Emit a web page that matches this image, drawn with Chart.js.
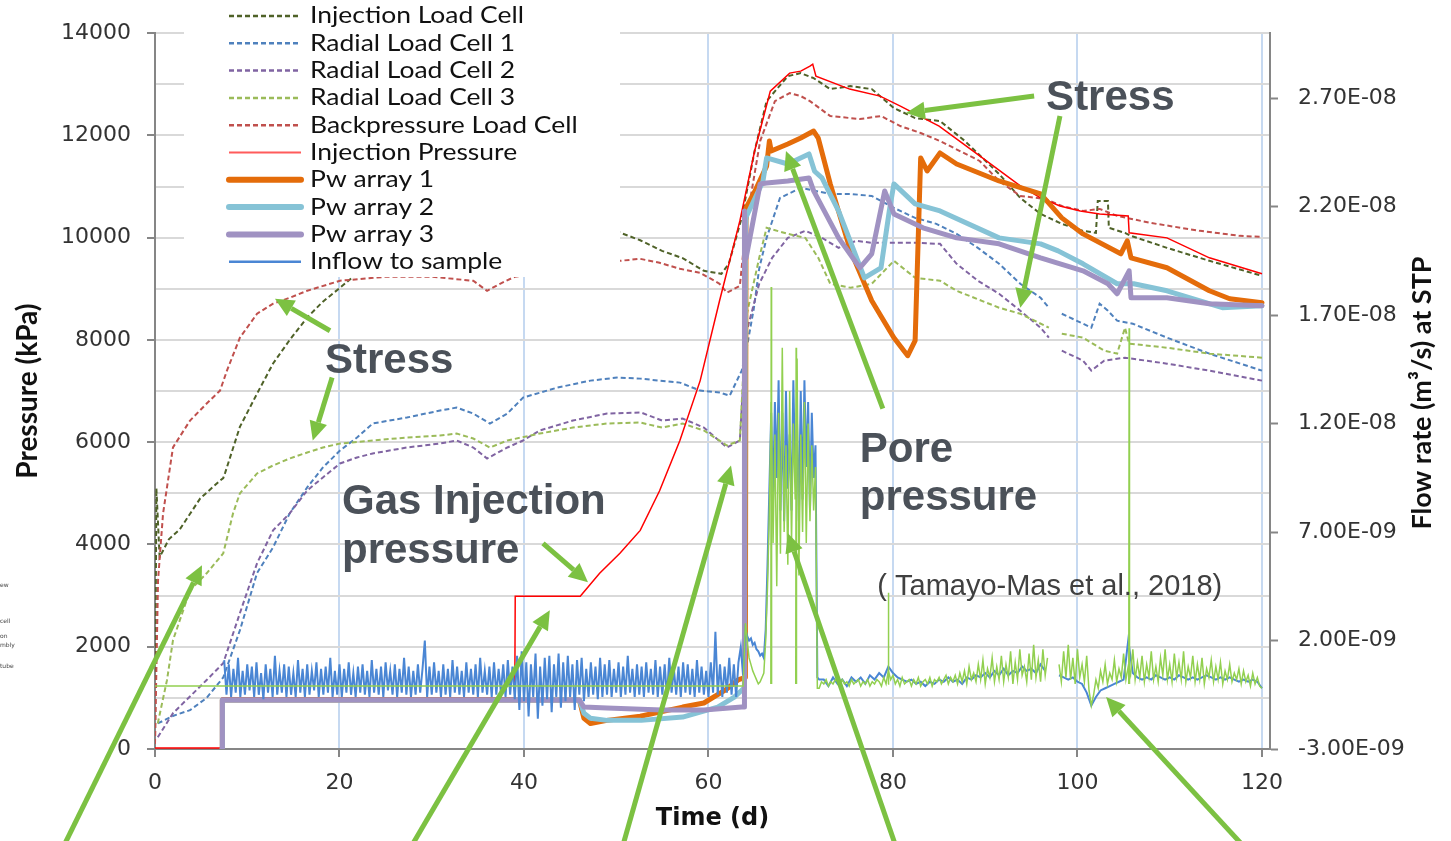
<!DOCTYPE html>
<html>
<head>
<meta charset="utf-8">
<title>Gas injection test</title>
<script src="https://cdn.jsdelivr.net/npm/chart.js@4.4.1/dist/chart.umd.min.js"></script>
<style>
  html, body { margin: 0; padding: 0; background: #fff; }
  #wrap { position: relative; width: 1451px; height: 841px; }
</style>
</head>
<body>
<div id="wrap"><canvas id="myChart"></canvas></div>
<script>
// axis ticks
const xTicks = [0, 20, 40, 60, 80, 100, 120]
const leftTicks = [0, 1000, 2000, 3000, 4000, 5000, 6000, 7000, 8000, 9000, 10000, 11000, 12000, 13000, 14000]
const rightTicks = [-3, 2, 7, 12, 17, 22, 27]   // flow in 1e-9 m3/s

// stresses (kPa) against time (d)
const ilcDays = [0, 0.15, 0.5, 1.5, 2.7, 3.8, 4.9, 7.05, 7.4, 7.6, 9.2, 11.06, 12.8, 14.6, 16.5, 18.2, 20.05, 21.5, 25, 30, 40, 50.4, 52.6, 54.96, 57.2, 59.5, 61.4, 62.2, 63.6, 65.0, 66.3, 68.6, 70.0, 71.4, 73.2, 75.4, 77.7, 80.1, 82.4, 85.1, 87.8, 91.5, 93.8, 96.0, 98.3, 100.6, 102.0, 102.2, 103.3, 103.4, 105.15, 105.8, 109.7, 114.3, 120.0]
const ilcKpa = [100, 5100, 3750, 4100, 4300, 4600, 4900, 5250, 5300, 5400, 6300, 6950, 7540, 8000, 8440, 8750, 9020, 9240, 9700, 10000, 10100, 10100, 9950, 9743, 9600, 9353, 9294, 9490, 10388, 11696, 12672, 13160, 13219, 13121, 12907, 12965, 12907, 12536, 12340, 12282, 11891, 11247, 10778, 10466, 10271, 10134, 10095, 10720, 10720, 10193, 10095, 10036, 9802, 9548, 9255]

const rlc1Days = [0.3, 2, 3.8, 5.6, 7.4, 9.2, 11.06, 12.8, 14.6, 16.5, 18.2, 20.05, 21.9, 23.6, 27.3, 30.9, 32.7, 34.5, 36.3, 38.2, 39.9, 43.6, 47.2, 50.1, 52.6, 54.7, 56.9, 59.1, 61.2, 62.3, 63.6, 64.1, 64.9, 65.5, 66.3, 67.75, 70.0, 73.2, 75.4, 77.7, 80.1, 82.4, 84.7, 86.9, 89.2, 91.5, 93.8, 96.0, 96.9, 97.5, 98.3, 100.6, 101.5, 102.4, 103.3, 104.3, 106.0, 109.7, 114.3, 120.0]
const rlc1Kpa = [500, 650, 760, 1000, 1400, 2320, 3440, 3944, 4608, 5116, 5506, 5838, 6092, 6366, 6483, 6619, 6678, 6561, 6366, 6561, 6873, 7068, 7205, 7264, 7244, 7205, 7166, 7010, 6971, 6912, 7400, 7800, 8600, 9400, 9997, 10778, 10974, 10856, 10856, 10817, 10583, 10388, 10271, 10075, 9802, 9490, 9099, 8826, 8631, null, 8513, 8318, 8240, 8709, 8572, 8377, 8318, 8045, 7732, 7400]

const rlc2Days = [0.3, 1.95, 5.6, 7.4, 9.2, 11.06, 12.8, 14.6, 16.5, 18.2, 20.05, 21.9, 23.6, 27.3, 30.9, 32.7, 34.5, 36.0, 38.2, 39.9, 41.7, 45.3, 49.0, 52.7, 54.96, 57.2, 59.5, 62.0, 63.4, 64.07, 65.5, 66.9, 68.6, 70.5, 72.3, 74.1, 76.0, 77.7, 80.1, 82.4, 85.1, 86.9, 89.2, 91.5, 93.8, 96.0, 96.9, 97.5, 98.3, 100.6, 101.5, 102.9, 105.15, 109.7, 114.3, 120.0]
const rlc2Kpa = [230, 700, 1350, 1680, 2656, 3632, 4276, 4608, 5057, 5311, 5584, 5702, 5780, 5897, 5975, 6034, 5897, 5682, 5897, 6034, 6229, 6424, 6561, 6580, 6424, 6463, 6287, 5897, 6034, 8123, 9099, 9607, 9997, 10134, 9997, 9802, 9939, 9900, 9900, 9900, 9880, 9490, 9158, 8904, 8572, 8240, 8045, null, 7791, 7596, 7400, 7596, 7654, 7537, 7400, 7205]

const rlc3Days = [0.3, 1.3, 1.95, 3.8, 5.6, 7.4, 8.46, 9.2, 11.06, 12.8, 14.6, 16.5, 18.2, 20.05, 23.6, 27.3, 30.9, 32.7, 34.5, 36.3, 38.2, 41.7, 45.3, 49.0, 52.6, 54.96, 57.2, 59.5, 62.0, 63.4, 64.07, 65.5, 66.3, 68.6, 70.5, 71.9, 73.2, 75.4, 77.7, 80.1, 82.4, 85.1, 86.9, 91.5, 93.8, 96.9, 97.5, 98.3, 100.6, 102.9, 104.3, 105.15, 105.6, 109.7, 114.3, 120.0]
const rlc3Kpa = [500, 1347, 2128, 3105, 3437, 3827, 4608, 4999, 5389, 5545, 5682, 5799, 5897, 5975, 6034, 6092, 6131, 6170, 6073, 5897, 6034, 6170, 6287, 6366, 6385, 6287, 6366, 6229, 5936, 6034, 8435, 9607, 10193, 10075, 9997, 9607, 9099, 9021, 9099, 9548, 9216, 9158, 8962, 8631, 8513, 8240, null, 8123, 8045, 7791, 7732, 8240, 7928, 7849, 7732, 7654]

const bplcDays = [0, 0.33, 0.87, 1.95, 3.8, 5.6, 7.05, 7.8, 9.2, 11.06, 12.8, 14.6, 16.5, 20.05, 25, 30, 34.5, 36.0, 37.4, 39.0, 45, 50.4, 52.6, 54.7, 56.9, 59.1, 61.2, 62.0, 63.4, 64.0, 64.5, 65.6, 67.2, 68.8, 70.0, 71.0, 73.2, 76.4, 78.7, 80.8, 83.0, 85.1, 89.4, 91.5, 93.8, 96.5, 98.3, 100.6, 102.4, 104.3, 107.9, 113.3, 117.6, 120.0]
const bplcKpa = [100, 3300, 4600, 5900, 6424, 6756, 7010, 7400, 8045, 8513, 8709, 8826, 8962, 9158, 9236, 9236, 9158, 8962, 9099, 9236, 9400, 9548, 9587, 9509, 9392, 9314, 9099, 8923, 9060, 10134, 10720, 11891, 12672, 12829, 12770, 12672, 12380, 12321, 12380, 12184, 12048, 11891, 11501, 11110, 10817, 10758, 10622, 10524, 10563, 10427, 10290, 10134, 10036, 10017]

const ipDays = [0, 7.25, 7.3, 39.0, 39.05, 46.1, 48.2, 50.4, 52.6, 54.7, 56.9, 59.1, 61.2, 63.4, 65.0, 66.7, 68.8, 70.0, 71.0, 71.3, 71.65, 75.3, 78.6, 80.8, 85.0, 89.4, 93.8, 96.0, 98.1, 100.3, 102.4, 105.5, 105.6, 109.7, 114.3, 120.0]
const ipKpa = [20, 20, 1000, 1000, 2987, 2987, 3437, 3830, 4276, 5050, 6034, 7205, 8767, 10329, 11696, 12868, 13219, 13258, 13356, 13395, 13160, 12907, 12770, 12575, 12184, 11599, 11013, 10778, 10622, 10524, 10466, 10427, 10095, 9997, 9607, 9294]

// pore pressure arrays (kPa)
const pw1Days = [7.28, 7.3, 46.0, 46.5, 47.2, 49.0, 52.6, 57.2, 59.5, 61.8, 63.2, 64.0, 64.07, 65.0, 66.3, 66.6, 66.8, 68.6, 70.0, 71.4, 71.9, 73.2, 75.4, 77.7, 80.1, 81.6, 82.4, 83.0, 83.7, 85.1, 86.9, 91.5, 96.0, 98.3, 100.6, 104.7, 105.4, 105.8, 109.7, 114.3, 116.5, 120.0]
const pw1Kpa = [0, 960, 960, 600, 500, 560, 640, 820, 900, 1150, 1350, 1400, 10583, 10900, 11400, 11891, 11696, 11833, 11950, 12087, 11950, 11052, 9743, 8767, 8045, 7693, 7986, 11560, 11306, 11657, 11442, 11110, 10856, 10388, 10075, 9685, 9939, 9607, 9412, 8962, 8806, 8728]

const pw2Days = [7.28, 7.3, 46.0, 46.5, 47.2, 49.0, 52.7, 57.2, 61.0, 62.8, 63.6, 63.9, 64.0, 64.07, 65.9, 66.3, 68.6, 70.9, 71.5, 72.3, 74.1, 76.9, 78.7, 79.6, 80.1, 82.4, 85.1, 91.5, 96.0, 97.9, 100.6, 104.3, 106.1, 109.7, 115.7, 120.0]
const pw2Kpa = [0, 960, 960, 700, 600, 560, 560, 625, 820, 1015, 1150, 1200, 10000, 10400, 11100, 11560, 11442, 11638, 11300, 11169, 10524, 9216, 9412, 10524, 11052, 10661, 10524, 9997, 9880, 9743, 9490, 9099, 9099, 8962, 8631, 8670]

const pw3Days = [7.28, 7.3, 46.0, 46.5, 49.0, 54.96, 59.5, 63.6, 63.85, 63.9, 64.07, 65.6, 66.3, 68.6, 70.9, 71.4, 74.1, 76.4, 77.7, 79.1, 80.1, 83.25, 86.9, 91.5, 96.0, 100.6, 103.3, 104.3, 105.6, 105.8, 109.7, 114.3, 120.0]
const pw3Kpa = [0, 960, 960, 820, 800, 761, 761, 820, 820, 10524, 9600, 11052, 11071, 11110, 11169, 10915, 9997, 9412, 9685, 10915, 10466, 10193, 9997, 9880, 9607, 9353, 9099, 8904, 9353, 8826, 8826, 8709, 8670]

// flow rates (1e-9 m3/s) read in three stretches with their own sampling step
const inflowStartA = 7.5
const inflowStepA = 0.25
const inflowA = [
  1.1, -0.5, 0.9, -0.6, 0.7, -0.4, 1.2, -0.6, 0.6, -0.5, 0.9, -0.3, 0.8, -0.6, 1.0, -0.5, 0.5, -0.7, 0.9, -0.4,
  0.7, -0.6, 1.3, -0.5, 0.6, -0.4, 0.9, -0.6, 0.8, -0.5, 0.5, -0.6, 1.1, -0.4, 0.7, -0.6, 0.9, -0.5, 0.6, -0.3,
  1.0, -0.6, 0.7, -0.5, 0.8, -0.4, 1.2, -0.6, 0.6, -0.5, 0.9, -0.6, 0.7, -0.4, 1.0, -0.5, 0.5, -0.6, 0.8, -0.4,
  0.9, -0.5, 0.6, -0.6, 1.1, -0.4, 0.7, -0.5, 0.8, -0.6, 1.0, -0.3, 0.6, -0.5, 0.9, -0.6, 0.7, -0.4, 1.2, -0.5,
  0.8, -0.6, 0.6, -0.5, 0.9, -0.4, 0.7, 2.0, -0.6, 0.8, -0.5, 1.0, -0.4, 0.6, -0.6, 0.9, -0.5, 0.7, -0.6, 1.1,
  -0.4, 0.8, -0.5, 0.6, -0.6, 1.0, -0.4, 0.7, -0.5, 0.9, -0.6, 1.2, -0.4, 0.6, -0.5, 0.8, -0.6, 1.0, -0.5, 0.7,
  -0.4, 0.9, -0.6, 1.1, -0.5, 0.8, -0.7, 1.3, -1.2, 1.5, -0.8, 1.0, -1.5, 0.9, -0.6, 1.4, -1.6, 0.8, -1.0, 1.2,
  -0.7, 1.3, -1.3, 0.9, -0.6, 1.4, -1.1, 1.0, -0.8, 1.3, -0.6, 0.9, -1.2, 1.1, -0.5, 1.2, -0.8, 0.7, -0.6, 1.0,
  -0.5, 0.8, -0.7, 1.2, -0.6, 0.9, -0.5, 1.1, -0.6, 0.7, -0.4, 1.0, -0.6, 0.8, -0.5, 1.3, -0.4, 0.7, -0.6, 0.9,
  -0.5, 0.8, -0.6, 1.0, -0.4, 0.7, -0.5, 1.1, -0.6, 0.8, -0.5, 0.9, -0.6, 1.2, -0.4, 0.7, -0.5, 0.8, -0.6, 1.0,
  -0.4, 0.9, -0.5, 0.7, -0.6, 1.1, -0.4, 0.8, -0.5, 0.6, -0.6, 1.0, -0.4, 2.4, -0.5, 0.9, -0.6, 0.8, -0.4, 1.2,
  -0.5, 0.9, -0.6, 1.0, 1.7, 0.4
]
const eventStart = 64
const eventStep = 0.2
const inflowEvent = [
  2.5, 2.2, 2.0, 2.1, 1.8, 1.9, 1.6, 1.5, 1.3, 1.4,
  1.2, 2.5, 5.5, 9.0, 12.5, 8.5, 13.0, 9.5, 14.0, 8.0,
  12.5, 7.5, 13.5, 9.0, 11.5, 8.0, 14.0, 9.5, 12.0, 7.5,
  13.5, 8.5, 14.0, 10.0, 13.0, 8.0, 12.5, 9.5, 11.0, 0.3
]
const greenEvent = [
  2.8, 2.0, 1.2, 0.9, 0.6, 0.4, 0.2, 0.0, 0.1, 0.3,
  0.5, 2.0, 4.5, 8.0, 13.0, 6.5, 11.5, 4.5, 12.5, 6.0,
  15.5, 7.0, 11.0, 5.5, 13.5, 6.5, 12.0, 8.5, 15.0, 5.0,
  11.5, 7.0, 13.0, 6.5, 12.0, 7.5, 11.0, 8.0, 10.0, -0.2
]
const lateStart = 72
const inflowLateStep = 0.5
const inflowLate = [
  0.2, 0.2, -0.1, 0.3,
  0.0, 0.2, -0.1, 0.3, 0.1, 0.3, 0.0, 0.4, 0.2, 0.5,
  0.3, 0.8, 0.5, 0.3, 0.2, 0.1, 0.2, 0.0, 0.1, -0.1,
  0.1, 0.0, 0.2, 0.1, 0.3, 0.1, 0.2, 0.0, 0.3, 0.2,
  0.4, 0.3, 0.5, 0.3, 0.6, 0.4, 0.7, 0.4, 0.6, 0.5,
  0.8, 0.6, 0.7, 0.5, 0.9, 0.6, null, null, 0.4, 0.3,
  0.2, 0.3, 0.1, 0.0, -0.4, -1.0, -0.6, -0.3, -0.2, -0.1,
  0.0, 0.1, 0.2, 2.0, 0.5, 0.3, 0.2, 0.3, 0.2, 0.4,
  0.3, 0.2, 0.3, 0.2, 0.4, 0.3, 0.2, 0.3, 0.2, 0.3,
  0.4, 0.3, 0.2, 0.3, 0.2, 0.3, 0.2, 0.1, 0.2, 0.1,
  0.2, 0.1, -0.2
]
const greenLateStep = 0.25
const greenLate = [
  -0.2, 0.1, 0.0, 0.2, -0.1, 0.1, 0.0, 0.2, 0.1, -0.1, 0.2, 0.0, 0.1, -0.1, 0.2, 0.0, 0.1, 0.2, -0.1, 0.1,
  0.0, 0.2, -0.1, 0.1, 0.0, 0.2, 0.1, -0.1, 0.3, 0.0, 0.6, 0.2, 0.4, 0.0, 0.2, -0.1, 0.3, 0.0, 0.1, 0.2,
  -0.1, 0.2, 0.0, 0.3, -0.1, 0.1, 0.2, 0.0, 0.3, -0.1, 0.2, 0.1, 0.3, 0.0, 0.2, 0.4, 0.0, 0.3, 0.1, 0.4,
  0.0, 0.5, 0.1, 0.6, 0.0, 0.8, 0.2, 0.5, 0.1, 0.9, 0.2, 1.1, 0.0, 0.7, 0.3, 1.2, 0.1, 0.8, 0.2, 1.3,
  0.1, 0.9, 0.3, 1.5, 0.0, 1.0, 0.2, 1.6, 0.4, 0.8, 0.1, 1.4, 0.2, 1.8, 0.3, 1.1, 0.1, 1.6, 0.4, 1.2,
  null, null, null, null, 0.9, 0.1, 1.5, 0.3, 1.8, 0.2, 1.2, 0.0, 1.6, 0.3, 0.9, 0.1, 1.3, -0.3, -1.0, -0.5,
  0.2, -0.2, 0.6, 0.1, 0.9, 0.0, 0.5, 0.2, 1.1, 0.1, 0.7, 0.3, 1.4, 0.2, 0.8, 0.4, 1.6, 0.2, 1.0, 0.3,
  1.3, 0.1, 0.9, 0.3, 1.5, 0.2, 0.8, 0.1, 1.2, 0.4, 1.6, 0.2, 0.9, 0.1, 1.4, 0.3, 1.0, 0.2, 1.5, 0.1,
  0.8, 0.3, 1.3, 0.1, 0.9, 0.2, 1.2, 0.0, 0.7, 0.3, 1.1, 0.1, 0.8, 0.2, 1.0, 0.0, 0.6, 0.2, 0.9, 0.1,
  0.5, 0.2, 0.7, 0.0, 0.6, 0.1, 0.4, -0.1, 0.5, 0.0, 0.3, -0.1, -0.2
]
const greenEarlyDays = [0, 63.75]
const greenEarlyVals = [-0.1, -0.1]
const spikeDays = [66.8, 69.5, 79.5, 105.6]
const spikeTops = [18.3, 15.5, 4.2, 16.4]

// annotations, in data units (day, kPa)
const noteArrows = [
  [18.97, 8181, 13.0, 8806],
  [19.2, 7264, 17.1, 6034],
  [42.06, 4022, 46.94, 3261],
  [-9.9, -1900, 5.09, 3593],
  [27.8, -1900, 42.8, 2714],
  [50.7, -1900, 62.44, 5545],
  [78.9, 6658, 68.4, 11696],
  [80.3, -1900, 68.6, 4218],
  [118.0, -1900, 103.1, 1015],
  [95.3, 12770, 81.4, 12438],
  [98.1, 12380, 93.8, 8631]
]
const noteTexts = [
  ['Stress', 18.43, 7361, true],
  ['Gas Injection', 20.27, 4589, true],
  ['pressure', 20.27, 3632, true],
  ['Stress', 96.6, 12497, true],
  ['Pore', 76.4, 5623, true],
  ['pressure', 76.4, 4667, true],
  ['( Tamayo-Mas et al., 2018)', 78.3, 3007, false]
]

function pairs(xs, ys) {
  return xs.map((x, i) => ({ x, y: ys[i] }))
}

function grid(start, step, vals) {
  return vals.map((v, i) => ({ x: start + i * step, y: v }))
}

function spikes(days, tops) {
  const out = []
  days.forEach((d, i) => {
    out.push({ x: d - 0.04, y: 0 }, { x: d, y: tops[i] }, { x: d + 0.04, y: 0 }, { x: d + 0.05, y: null })
  })
  return out
}

function fmtFlow(v) {
  const parts = (v * 1e-9).toExponential(2).split('e')
  const e = Number(parts[1])
  return parts[0] + 'E' + (e < 0 ? '-' : '+') + String(Math.abs(e)).padStart(2, '0')
}

function dashed(label, color, xs, ys, order) {
  return { label, data: pairs(xs, ys), borderColor: color, borderWidth: 2, borderDash: [5, 3], yAxisID: 'y', order }
}

function thick(label, color, xs, ys, order) {
  return { label, data: pairs(xs, ys), borderColor: color, borderWidth: 5, borderCapStyle: 'round', borderJoinStyle: 'round', yAxisID: 'y', order }
}

const inflowPoints = grid(inflowStartA, inflowStepA, inflowA)
  .concat(grid(eventStart, eventStep, inflowEvent))
  .concat(grid(lateStart, inflowLateStep, inflowLate))
const greenPoints = pairs(greenEarlyDays, greenEarlyVals)
  .concat(grid(eventStart, eventStep, greenEvent))
  .concat(grid(lateStart, greenLateStep, greenLate))

const datasets = [
  dashed('Injection Load Cell', '#4F6228', ilcDays, ilcKpa, 10),
  dashed('Radial Load Cell 1', '#4F81BD', rlc1Days, rlc1Kpa, 9),
  dashed('Radial Load Cell 2', '#8064A2', rlc2Days, rlc2Kpa, 8),
  dashed('Radial Load Cell 3', '#9BBB59', rlc3Days, rlc3Kpa, 7),
  dashed('Backpressure Load Cell', '#C0504D', bplcDays, bplcKpa, 6),
  { label: 'Injection Pressure', data: pairs(ipDays, ipKpa), borderColor: '#FF0000', legendColor: '#FF5B5B', borderWidth: 1.5, yAxisID: 'y', order: 5 },
  thick('Pw array 1', '#E46C0A', pw1Days, pw1Kpa, 4),
  thick('Pw array 2', '#86C3D6', pw2Days, pw2Kpa, 3),
  thick('Pw array 3', '#A092C2', pw3Days, pw3Kpa, 2),
  { label: 'Inflow to sample', data: inflowPoints, borderColor: '#4A86D4', borderWidth: 2, yAxisID: 'y1', order: 1 },
  { data: greenPoints, borderColor: '#92D050', borderWidth: 1.5, yAxisID: 'y1', order: 0 },
  { data: spikes(spikeDays, spikeTops), borderColor: '#92D050', borderWidth: 1.5, yAxisID: 'y1', order: 0 }
]

const tickFont = { family: 'DejaVu Sans', size: 22 }
const axisGray = '#868686'
const noteGreen = '#7CC142'

function drawArrow(ctx, x1, y1, x2, y2) {
  const a = Math.atan2(y2 - y1, x2 - x1)
  const head = 19
  const w = 9
  const bx = x2 - head * Math.cos(a)
  const by = y2 - head * Math.sin(a)
  ctx.beginPath()
  ctx.moveTo(x1, y1)
  ctx.lineTo(bx, by)
  ctx.stroke()
  ctx.beginPath()
  ctx.moveTo(x2, y2)
  ctx.lineTo(bx + w * Math.sin(a), by - w * Math.cos(a))
  ctx.lineTo(bx - w * Math.sin(a), by + w * Math.cos(a))
  ctx.closePath()
  ctx.fill()
}

const overlay = {
  id: 'overlay',
  afterDatasetsDraw(chart) {
    // legend box sits on top of the plot
    const ctx = chart.ctx
    const items = chart.data.datasets.filter(d => d.label)
    ctx.save()
    ctx.fillStyle = '#fff'
    ctx.fillRect(184, 0, 436, 277)
    ctx.font = '23px Lato'
    ctx.textBaseline = 'middle'
    items.forEach((d, i) => {
      const y = 16 + i * 27.3
      ctx.strokeStyle = d.legendColor || d.borderColor
      ctx.lineWidth = d.borderWidth > 3 ? 6 : d.borderWidth + 0.5
      ctx.lineCap = d.borderWidth > 3 ? 'round' : 'butt'
      ctx.setLineDash(d.borderDash || [])
      ctx.beginPath()
      ctx.moveTo(229, y)
      ctx.lineTo(301, y)
      ctx.stroke()
      ctx.setLineDash([])
      ctx.fillStyle = '#111'
      ctx.save()
      ctx.translate(310, y)
      ctx.scale(1.15, 1)
      ctx.fillText(d.label, 0, 0)
      ctx.restore()
    })
    ctx.restore()
  },
  afterDraw(chart) {
    const ctx = chart.ctx
    const sx = chart.scales.x
    const sy = chart.scales.y
    ctx.save()
    ctx.strokeStyle = noteGreen
    ctx.fillStyle = noteGreen
    ctx.lineWidth = 5
    noteArrows.forEach(a => {
      drawArrow(ctx, sx.getPixelForValue(a[0]), sy.getPixelForValue(a[1]), sx.getPixelForValue(a[2]), sy.getPixelForValue(a[3]))
    })
    ctx.textBaseline = 'alphabetic'
    noteTexts.forEach(t => {
      ctx.font = t[3] ? 'bold 42px "Liberation Sans"' : '29px "Liberation Sans"'
      ctx.fillStyle = t[3] ? '#4B5159' : '#404040'
      ctx.fillText(t[0], sx.getPixelForValue(t[1]), sy.getPixelForValue(t[2]))
    })

    // right axis title reads bottom to top
    ctx.translate(1422, 393)
    ctx.rotate(-Math.PI / 2)
    ctx.font = 'bold 27px Lato'
    ctx.fillStyle = '#111'
    ctx.textAlign = 'center'
    ctx.textBaseline = 'middle'
    ctx.fillText('Flow rate (m³/s) at STP', 0, 0)
    ctx.restore()

    // clipped remains of another legend at the far left
    ctx.save()
    ctx.font = '6px "DejaVu Sans"'
    ctx.fillStyle = '#444'
    ctx.fillText('ew', 0, 587)
    ctx.fillText('cell', 0, 623)
    ctx.fillText('on', 0, 638)
    ctx.fillText('mbly', 0, 647)
    ctx.fillText('tube', 0, 668)
    ctx.restore()
  }
}

new Chart(document.getElementById('myChart'), {
  type: 'line',
  data: { datasets },
  options: {
    responsive: true,
    maintainAspectRatio: false,
    animation: false,
    layout: { padding: { top: 32, left: 0, right: 0, bottom: 0 } },
    elements: {
      point: { radius: 0, hoverRadius: 0 },
      line: { tension: 0, fill: false }
    },
    spanGaps: false,
    plugins: {
      legend: { display: false },
      tooltip: { enabled: false }
    },
    scales: {
      x: {
        type: 'linear',
        min: 0,
        max: 120.87,
        afterBuildTicks: s => { s.ticks = xTicks.map(v => ({ value: v })) },
        afterFit: s => { s.height = 92 },
        grid: {
          color: c => (c.tick && c.tick.value === 0 ? 'rgba(0,0,0,0)' : '#C6D9F1'),
          lineWidth: 2,
          tickLength: 8,
          tickColor: axisGray,
          tickWidth: 2
        },
        border: { color: axisGray, width: 2 },
        ticks: { font: tickFont, color: '#333', padding: 13, maxRotation: 0, autoSkip: false },
        title: { display: true, text: 'Time (d)', color: '#111', font: { family: 'DejaVu Sans', size: 24, weight: 'bold' }, padding: { top: 0, bottom: 8 } }
      },
      y: {
        position: 'left',
        min: 0,
        max: 14000,
        afterBuildTicks: s => { s.ticks = leftTicks.map(v => ({ value: v })) },
        afterFit: s => { s.width = 155 },
        grid: {
          color: c => (c.tick && c.tick.value === 0 ? 'rgba(0,0,0,0)' : '#D9D9D9'),
          lineWidth: 2,
          tickLength: 8,
          tickColor: c => (c.tick && c.tick.value % 2000 === 0 ? axisGray : 'rgba(0,0,0,0)'),
          tickWidth: 2
        },
        border: { color: axisGray, width: 2 },
        ticks: { callback: v => (v % 2000 === 0 ? String(v) : ''), font: tickFont, color: '#333', padding: 16, autoSkip: false },
        title: { display: true, text: 'Pressure (kPa)', color: '#111', font: { family: 'Lato', size: 28, weight: 'bold' }, padding: { top: 11, bottom: 0 } }
      },
      y1: {
        position: 'right',
        min: -3,
        max: 30,
        afterBuildTicks: s => { s.ticks = rightTicks.map(v => ({ value: v })) },
        afterFit: s => { s.width = 181 },
        grid: { drawOnChartArea: false, tickLength: 8, tickColor: axisGray, tickWidth: 2 },
        border: { color: axisGray, width: 2 },
        ticks: { callback: v => fmtFlow(v), font: tickFont, color: '#333', padding: 20, autoSkip: false }
      }
    }
  },
  plugins: [overlay]
})
</script>
</body>
</html>
